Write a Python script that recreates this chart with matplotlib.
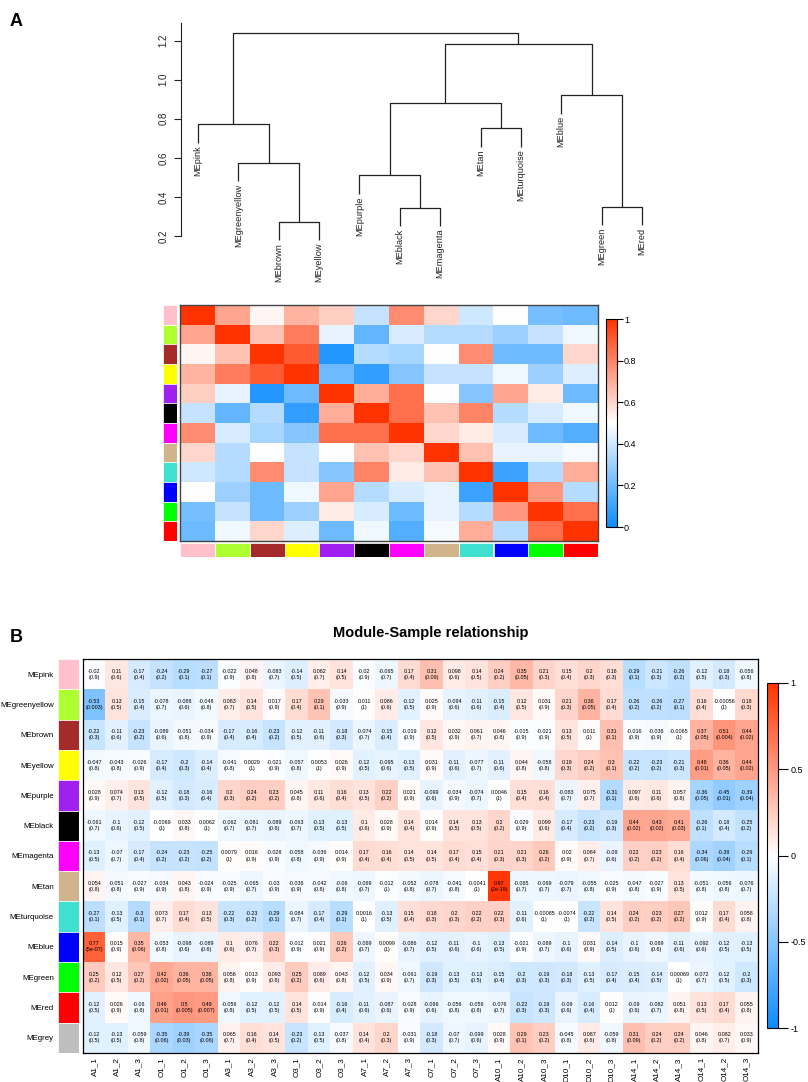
import matplotlib
matplotlib.use('Agg')
import matplotlib.pyplot as plt
import numpy as np
from matplotlib.colors import LinearSegmentedColormap

plt.rcParams['font.family'] = ['Liberation Sans', 'DejaVu Sans']

W, H = 808, 1082

# ---- data ----
# eigengene modules (dendrogram leaf order)
modules = ['pink', 'greenyellow', 'brown', 'yellow', 'purple', 'black', 'magenta',
           'tan', 'turquoise', 'blue', 'green', 'red']
module_colors = ['#FFC0CB', '#ADFF2F', '#A52A2A', '#FFFF00', '#A020F0', '#000000',
                 '#FF00FF', '#D2B48C', '#40E0D0', '#0000FF', '#00FF00', '#FF0000']

# hclust style merge table (negative = leaf, positive = earlier merge) and heights
tree_merge = [(-3, -4), (-2, 1), (-1, 2), (-6, -7), (-5, 4), (-8, -9), (5, 6),
              (-11, -12), (-10, 8), (7, 9), (3, 10)]
tree_height = [0.272, 0.576, 0.773, 0.344, 0.511, 0.752, 0.880, 0.350, 0.920, 1.180, 1.240]

# eigengene adjacency (estimated from the colours)
adjacency = [
    [1.00, 0.72, 0.52, 0.68, 0.62, 0.38, 0.78, 0.60, 0.40, 0.50, 0.22, 0.20],
    [0.72, 1.00, 0.65, 0.82, 0.45, 0.18, 0.42, 0.35, 0.35, 0.30, 0.38, 0.47],
    [0.52, 0.65, 1.00, 0.90, 0.05, 0.35, 0.32, 0.50, 0.78, 0.20, 0.20, 0.60],
    [0.68, 0.82, 0.90, 1.00, 0.20, 0.08, 0.25, 0.38, 0.38, 0.47, 0.30, 0.43],
    [0.62, 0.45, 0.05, 0.20, 1.00, 0.70, 0.85, 0.50, 0.25, 0.72, 0.55, 0.20],
    [0.38, 0.18, 0.35, 0.08, 0.70, 1.00, 0.85, 0.65, 0.80, 0.35, 0.42, 0.47],
    [0.78, 0.42, 0.32, 0.25, 0.85, 0.85, 1.00, 0.60, 0.55, 0.42, 0.20, 0.15],
    [0.60, 0.35, 0.50, 0.38, 0.50, 0.65, 0.60, 1.00, 0.65, 0.45, 0.45, 0.48],
    [0.40, 0.35, 0.78, 0.38, 0.25, 0.80, 0.55, 0.65, 1.00, 0.10, 0.35, 0.70],
    [0.50, 0.30, 0.20, 0.47, 0.72, 0.35, 0.42, 0.45, 0.10, 1.00, 0.75, 0.35],
    [0.22, 0.38, 0.20, 0.30, 0.55, 0.42, 0.20, 0.45, 0.35, 0.75, 1.00, 0.85],
    [0.20, 0.47, 0.60, 0.43, 0.20, 0.47, 0.15, 0.48, 0.70, 0.35, 0.85, 1.00],
]

samples = ['A1_1', 'A1_2', 'A1_3', 'O1_1', 'O1_2', 'O1_3', 'A3_1', 'A3_2', 'A3_3',
           'O3_1', 'O3_2', 'O3_3', 'A7_1', 'A7_2', 'A7_3', 'O7_1', 'O7_2', 'O7_3',
           'A10_1', 'A10_2', 'A10_3', 'O10_1', 'O10_2', 'O10_3', 'A14_1', 'A14_2',
           'A14_3', 'O14_1', 'O14_2', 'O14_3']

trait_modules = ['pink', 'greenyellow', 'brown', 'yellow', 'purple', 'black', 'magenta',
                 'tan', 'turquoise', 'blue', 'green', 'red', 'grey']
trait_colors = module_colors + ['#BEBEBE']

cor_pink = [-0.02, 0.11, -0.17, -0.24, -0.29, -0.27, -0.022, 0.048, -0.083, -0.14, 0.082, 0.14, -0.02, -0.065, 0.17, 0.31, 0.098, 0.14, 0.24, 0.35, 0.21, 0.15, 0.2, 0.16, -0.29, -0.21, -0.26, -0.12, -0.18, -0.056]
p_pink = [0.9, 0.6, 0.4, 0.2, 0.1, 0.1, 0.9, 0.8, 0.7, 0.5, 0.7, 0.5, 0.9, 0.7, 0.4, 0.09, 0.6, 0.5, 0.2, 0.05, 0.3, 0.4, 0.3, 0.3, 0.1, 0.3, 0.2, 0.5, 0.3, 0.8]
cor_greenyellow = [-0.53, 0.13, -0.15, -0.078, -0.088, -0.048, 0.083, 0.14, 0.017, 0.17, 0.29, -0.033, 0.011, 0.086, -0.12, 0.025, -0.094, -0.11, -0.15, 0.12, 0.031, 0.21, 0.36, 0.17, -0.26, -0.26, -0.27, 0.16, -0.00056, 0.18]
p_greenyellow = [0.003, 0.5, 0.4, 0.7, 0.6, 0.8, 0.7, 0.5, 0.9, 0.4, 0.1, 0.9, 1, 0.6, 0.5, 0.9, 0.6, 0.6, 0.4, 0.5, 0.9, 0.3, 0.05, 0.4, 0.2, 0.2, 0.1, 0.4, 1, 0.3]
cor_brown = [-0.22, -0.11, -0.23, -0.089, -0.051, -0.034, -0.17, -0.16, -0.23, -0.12, -0.11, -0.18, -0.074, -0.15, -0.019, 0.12, 0.032, 0.061, 0.046, -0.015, -0.021, 0.13, 0.011, 0.31, -0.016, -0.036, -0.0065, 0.37, 0.51, 0.44]
p_brown = [0.3, 0.6, 0.2, 0.6, 0.8, 0.9, 0.4, 0.4, 0.2, 0.5, 0.6, 0.3, 0.7, 0.4, 0.9, 0.5, 0.9, 0.7, 0.8, 0.9, 0.9, 0.5, 1, 0.1, 0.9, 0.9, 1, 0.05, 0.004, 0.02]
cor_yellow = [-0.047, -0.043, -0.026, -0.17, -0.2, -0.14, -0.041, 0.0029, -0.021, -0.057, 0.0053, 0.026, -0.12, -0.095, -0.13, 0.031, -0.11, -0.077, -0.11, 0.044, -0.058, 0.19, 0.24, 0.3, -0.22, -0.23, -0.21, 0.48, 0.36, 0.44]
p_yellow = [0.8, 0.8, 0.9, 0.4, 0.3, 0.4, 0.8, 1, 0.9, 0.8, 1, 0.9, 0.5, 0.6, 0.5, 0.9, 0.6, 0.7, 0.6, 0.8, 0.8, 0.3, 0.2, 0.1, 0.2, 0.2, 0.3, 0.01, 0.05, 0.02]
cor_purple = [0.028, 0.074, 0.13, -0.12, -0.18, -0.16, 0.2, 0.24, 0.23, 0.045, 0.11, 0.16, 0.13, 0.22, 0.021, -0.099, -0.034, -0.074, 0.0046, 0.15, 0.16, -0.083, 0.075, -0.31, 0.097, 0.11, 0.057, -0.36, -0.45, -0.39]
p_purple = [0.9, 0.7, 0.5, 0.5, 0.3, 0.4, 0.3, 0.2, 0.2, 0.8, 0.6, 0.4, 0.5, 0.2, 0.9, 0.6, 0.9, 0.7, 1, 0.4, 0.4, 0.7, 0.7, 0.1, 0.6, 0.6, 0.8, 0.05, 0.01, 0.04]
cor_black = [-0.061, -0.1, -0.12, -0.0069, 0.033, 0.0062, -0.062, -0.081, -0.089, -0.063, -0.13, -0.13, 0.1, 0.028, 0.14, 0.014, 0.14, 0.13, 0.2, -0.029, 0.099, -0.17, -0.23, -0.19, 0.44, 0.43, 0.41, -0.26, -0.18, -0.25]
p_black = [0.7, 0.6, 0.5, 1, 0.8, 1, 0.7, 0.7, 0.6, 0.7, 0.5, 0.5, 0.6, 0.9, 0.4, 0.9, 0.5, 0.5, 0.2, 0.9, 0.6, 0.4, 0.2, 0.3, 0.02, 0.02, 0.03, 0.1, 0.4, 0.2]
cor_magenta = [-0.13, -0.07, -0.17, -0.24, -0.23, -0.25, 0.0079, 0.016, -0.028, -0.058, -0.036, 0.014, 0.17, 0.16, 0.14, 0.14, 0.17, 0.15, 0.21, 0.21, 0.26, 0.02, 0.084, -0.09, 0.22, 0.23, 0.16, -0.34, -0.38, -0.29]
p_magenta = [0.5, 0.7, 0.4, 0.2, 0.2, 0.2, 1, 0.9, 0.9, 0.8, 0.9, 0.9, 0.4, 0.4, 0.5, 0.5, 0.4, 0.4, 0.3, 0.3, 0.2, 0.9, 0.7, 0.6, 0.2, 0.2, 0.4, 0.06, 0.04, 0.1]
cor_tan = [0.054, -0.051, -0.027, -0.034, 0.043, -0.024, -0.025, -0.065, -0.03, -0.036, -0.042, -0.06, -0.069, -0.012, -0.052, -0.078, -0.041, -0.0041, 0.97, -0.065, -0.069, -0.079, -0.055, -0.025, -0.047, -0.027, 0.13, -0.051, -0.056, -0.076]
p_tan = [0.8, 0.8, 0.9, 0.9, 0.8, 0.9, 0.9, 0.7, 0.9, 0.9, 0.8, 0.8, 0.7, 1, 0.8, 0.7, 0.8, 1, 2e-19, 0.7, 0.7, 0.7, 0.8, 0.9, 0.8, 0.9, 0.5, 0.8, 0.8, 0.7]
cor_turquoise = [-0.27, -0.13, -0.3, 0.073, 0.17, 0.13, -0.22, -0.23, -0.29, -0.084, -0.17, -0.29, 0.0016, -0.13, 0.15, 0.18, 0.2, 0.22, 0.22, -0.11, -0.00085, -0.0074, -0.22, 0.14, 0.24, 0.23, 0.27, 0.012, 0.17, 0.058]
p_turquoise = [0.1, 0.5, 0.1, 0.7, 0.4, 0.5, 0.3, 0.2, 0.1, 0.7, 0.4, 0.1, 1, 0.5, 0.4, 0.3, 0.3, 0.2, 0.3, 0.6, 1, 1, 0.2, 0.5, 0.2, 0.2, 0.2, 0.9, 0.4, 0.8]
cor_blue = [0.77, 0.015, 0.35, -0.053, -0.098, -0.089, 0.1, 0.076, 0.22, -0.012, 0.021, 0.26, -0.069, 0.0099, -0.086, -0.12, -0.11, -0.1, -0.13, -0.021, -0.069, -0.1, 0.031, -0.14, -0.1, -0.069, -0.11, -0.092, -0.12, -0.13]
p_blue = [5e-07, 0.9, 0.06, 0.8, 0.6, 0.6, 0.6, 0.7, 0.3, 0.9, 0.9, 0.2, 0.7, 1, 0.7, 0.5, 0.6, 0.6, 0.5, 0.9, 0.7, 0.6, 0.9, 0.5, 0.6, 0.6, 0.6, 0.6, 0.5, 0.5]
cor_green = [0.25, 0.12, 0.27, 0.42, 0.36, 0.36, 0.056, 0.013, 0.093, 0.25, 0.089, 0.043, -0.12, 0.034, -0.061, -0.19, -0.13, -0.13, -0.15, -0.2, -0.19, -0.18, -0.13, -0.17, -0.15, -0.14, 0.00069, -0.072, -0.12, -0.2]
p_green = [0.2, 0.5, 0.2, 0.02, 0.05, 0.05, 0.8, 0.9, 0.6, 0.2, 0.6, 0.8, 0.5, 0.9, 0.7, 0.3, 0.5, 0.5, 0.4, 0.3, 0.3, 0.3, 0.5, 0.4, 0.4, 0.5, 1, 0.7, 0.5, 0.3]
cor_red = [-0.12, 0.026, -0.06, 0.46, 0.5, 0.49, -0.056, -0.12, -0.12, 0.14, -0.014, -0.16, -0.11, -0.087, -0.028, -0.096, -0.056, -0.056, -0.076, -0.22, -0.19, -0.09, -0.16, 0.012, -0.09, -0.082, 0.051, 0.13, 0.17, 0.055]
p_red = [0.5, 0.9, 0.8, 0.01, 0.005, 0.007, 0.8, 0.5, 0.5, 0.5, 0.9, 0.4, 0.6, 0.6, 0.9, 0.6, 0.8, 0.8, 0.7, 0.3, 0.3, 0.6, 0.4, 1, 0.6, 0.7, 0.8, 0.5, 0.4, 0.8]
cor_grey = [-0.12, -0.13, -0.059, -0.35, -0.39, -0.35, 0.065, 0.16, 0.14, -0.23, -0.13, -0.037, 0.14, 0.2, -0.031, -0.18, -0.07, -0.099, 0.028, 0.29, 0.23, -0.045, 0.087, -0.059, 0.31, 0.24, 0.24, 0.046, 0.082, 0.033]
p_grey = [0.5, 0.5, 0.8, 0.06, 0.03, 0.06, 0.7, 0.4, 0.5, 0.2, 0.5, 0.8, 0.4, 0.3, 0.9, 0.3, 0.7, 0.6, 0.9, 0.1, 0.2, 0.8, 0.6, 0.8, 0.09, 0.2, 0.2, 0.8, 0.7, 0.9]

cor_rows = [cor_pink, cor_greenyellow, cor_brown, cor_yellow, cor_purple, cor_black,
            cor_magenta, cor_tan, cor_turquoise, cor_blue, cor_green, cor_red, cor_grey]
p_rows = [p_pink, p_greenyellow, p_brown, p_yellow, p_purple, p_black,
          p_magenta, p_tan, p_turquoise, p_blue, p_green, p_red, p_grey]

# WGCNA blueWhiteRed
bwr = LinearSegmentedColormap.from_list('bwr', [(0.05, 0.55, 1.0), (1, 1, 1), (1.0, 0.2, 0.0)])


def px_axes(fig, x0, y0, x1, y1):
    return fig.add_axes([x0 / W, 1 - y1 / H, (x1 - x0) / W, (y1 - y0) / H])


def color_strip(ax, colors, vertical=True):
    n = len(colors)
    if vertical:
        ax.barh(np.arange(n), 1, height=1, color=colors, edgecolor='white', linewidth=0.5)
        ax.set_ylim(n - 0.5, -0.5)
        ax.set_xlim(0, 1)
    else:
        ax.bar(np.arange(n), 1, width=1, color=colors, edgecolor='white', linewidth=0.5)
        ax.set_xlim(-0.5, n - 0.5)
        ax.set_ylim(0, 1)
    for s in ax.spines.values():
        s.set_visible(False)
    ax.set_xticks([])
    ax.set_yticks([])


fig = plt.figure(figsize=(W / 100, H / 100), dpi=100)

# ---- A: dendrogram ----
ax = px_axes(fig, 181, 23, 660, 236)
hang = 0.095
node_x, node_h = [], []
leaf_end = {}
for (a, b), h in zip(tree_merge, tree_height):
    xs, hs = [], []
    for c in (a, b):
        if c < 0:
            xs.append(-c - 1)
            hs.append(h - hang)
            leaf_end[-c - 1] = h - hang
        else:
            xs.append(node_x[c - 1])
            hs.append(node_h[c - 1])
    ax.plot([xs[0], xs[0], xs[1], xs[1]], [hs[0], h, h, hs[1]], color='#222222', lw=0.9,
            clip_on=False, solid_capstyle='butt')
    node_x.append((xs[0] + xs[1]) / 2)
    node_h.append(h)
for i, m in enumerate(modules):
    ax.text(i, leaf_end[i] - 0.012, 'ME' + m, rotation=90, ha='center', va='top',
            fontsize=6.6, color='#222222')
ax.set_xlim(-(198 - 181) / 40.36, (660 - 198) / 40.36)
ax.set_ylim(0.2, 1.29)
ax.set_yticks([0.2, 0.4, 0.6, 0.8, 1.0, 1.2])
ax.set_yticklabels(['0.2', '0.4', '0.6', '0.8', '1.0', '1.2'], rotation=90, va='center')
ax.tick_params(axis='y', labelsize=7, length=5, width=0.8, pad=4, colors='#222222')
ax.set_xticks([])
for s in ['top', 'right', 'bottom']:
    ax.spines[s].set_visible(False)
ax.spines['left'].set_linewidth(0.8)
ax.spines['left'].set_color('#222222')
ax.patch.set_visible(False)

# ---- A: adjacency heatmap ----
axh = px_axes(fig, 180, 305, 598, 541)
im = axh.imshow(np.array(adjacency), cmap=bwr, vmin=0, vmax=1, aspect='auto',
                interpolation='nearest')
axh.set_xticks([])
axh.set_yticks([])
for s in axh.spines.values():
    s.set_color('#444444')
    s.set_linewidth(1)

color_strip(px_axes(fig, 163, 305, 177, 541), module_colors, vertical=True)
color_strip(px_axes(fig, 180, 543, 598, 557), module_colors, vertical=False)

cax = px_axes(fig, 606, 319, 617, 527)
cb = fig.colorbar(im, cax=cax)
cb.set_ticks([0, 0.2, 0.4, 0.6, 0.8, 1])
cb.set_ticklabels(['0', '0.2', '0.4', '0.6', '0.8', '1'])
cb.ax.tick_params(labelsize=6.5, length=4, width=0.8, pad=1)
cb.outline.set_linewidth(0.8)

fig.text(10 / W, 1 - 22 / H, 'A', fontsize=13, fontweight='bold', ha='left', va='center')

# ---- B: module-sample relationship ----
cor = np.array(cor_rows)
axb = px_axes(fig, 83, 659, 758, 1053)
imb = axb.imshow(cor, cmap=bwr, vmin=-1, vmax=1, aspect='auto', interpolation='nearest')
for i in range(cor.shape[0]):
    for j in range(cor.shape[1]):
        axb.text(j, i, '{:g}\n({:g})'.format(cor_rows[i][j], p_rows[i][j]),
                 ha='center', va='center', fontsize=3.9, linespacing=1.25, color='black')
axb.set_yticks([])
axb.set_xticks(np.arange(len(samples)))
axb.set_xticklabels(samples, rotation=90, fontsize=5.9)
axb.tick_params(axis='x', length=0, pad=3)
for s in axb.spines.values():
    s.set_linewidth(0.9)

axs = px_axes(fig, 58, 659, 79, 1053)
color_strip(axs, trait_colors, vertical=True)
axs.set_yticks(np.arange(len(trait_modules)))
axs.set_yticklabels(['ME' + m for m in trait_modules], fontsize=5.7)
axs.tick_params(axis='y', length=0, pad=2.9)

caxb = px_axes(fig, 767, 683, 778, 1028)
cbb = fig.colorbar(imb, cax=caxb)
cbb.set_ticks([-1, -0.5, 0, 0.5, 1])
cbb.set_ticklabels(['-1', '-0.5', '0', '0.5', '1'])
cbb.ax.tick_params(labelsize=6.5, length=7, width=0.8, pad=2)
cbb.outline.set_linewidth(0.8)

fig.text(431 / W, 1 - 633 / H, 'Module-Sample relationship', fontsize=10.5,
         fontweight='bold', ha='center', va='center')
fig.text(10 / W, 1 - 637 / H, 'B', fontsize=13, fontweight='bold', ha='left', va='center')

fig.savefig('out.png', dpi=100)
